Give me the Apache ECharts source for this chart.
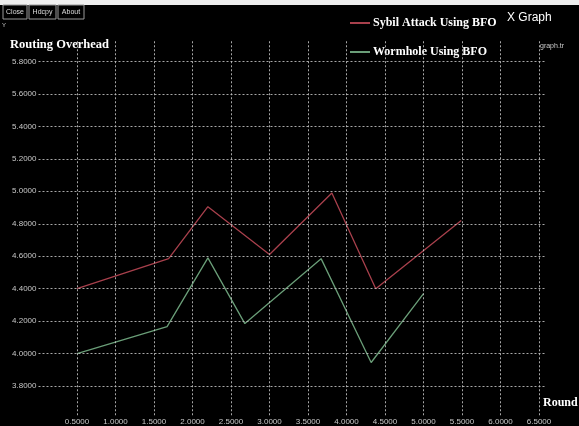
<!DOCTYPE html>
<html>
<head>
<meta charset="utf-8">
<script src="https://cdn.jsdelivr.net/npm/echarts@6/dist/echarts.min.js"></script>
<style>
  html, body { margin: 0; padding: 0; background: #000; }
  #chart { width: 579px; height: 426px; }
</style>
</head>
<body>
<div id="chart"></div>
<script>
// values
const sybilX = [0.5, 1.69, 2.2, 3.0, 3.81, 4.38, 5.49];
const sybilY = [4.4, 4.585, 4.905, 4.61, 4.99, 4.4, 4.82];
const wormX = [0.5, 1.67, 2.2, 2.68, 3.67, 4.32, 5.0];
const wormY = [4.0, 4.166, 4.59, 4.185, 4.585, 3.945, 4.37];
const xTicks = [0.5, 1.0, 1.5, 2.0, 2.5, 3.0, 3.5, 4.0, 4.5, 5.0, 5.5, 6.0, 6.5];
const yTicks = [3.8, 4.0, 4.2, 4.4, 4.6, 4.8, 5.0, 5.2, 5.4, 5.6, 5.8];
const seriesNames = ["Sybil Attack Using BFO", "Wormhole Using BFO"];

const pairs = (xs, ys) => xs.map((x, i) => [x, ys[i]]);

// xgraph grid lines run a little past the tick range
const gridLines = [];
xTicks.forEach((x) => gridLines.push([{ coord: [x, 3.62] }, { coord: [x, 5.93] }]));
yTicks.forEach((y) => gridLines.push([{ coord: [0.0, y] }, { coord: [6.58, y] }]));

const inRange = (v, arr) => arr.some((t) => Math.abs(t - v) < 1e-6);

const myChart = echarts.init(document.getElementById("chart"));

const option = {
  backgroundColor: "#000",
  animation: false,
  grid: { left: 38.5, right: 32.3, top: 29, bottom: 7.5, containLabel: false },
  xAxis: {
    type: "value",
    min: 0,
    max: 6.6,
    interval: 0.5,
    axisLine: { show: false },
    axisTick: { show: false },
    splitLine: { show: false },
    axisLabel: {
      color: "#c8c8c8",
      fontSize: 8,
      fontFamily: "Liberation Sans",
      margin: 3,
      verticalAlign: "middle",
      formatter: (v) => (inRange(v, xTicks) ? v.toFixed(4) : ""),
    },
  },
  yAxis: {
    type: "value",
    min: 3.6,
    max: 6.0,
    interval: 0.2,
    axisLine: { show: false },
    axisTick: { show: false },
    splitLine: { show: false },
    axisLabel: {
      color: "#c8c8c8",
      fontSize: 8,
      fontFamily: "Liberation Sans",
      margin: 2,
      formatter: (v) => (inRange(v, yTicks) ? v.toFixed(4) : ""),
    },
  },
  legend: {
    data: seriesNames,
    orient: "vertical",
    left: 350,
    top: 17,
    padding: 0,
    itemGap: 17,
    itemWidth: 20,
    itemHeight: 2,
    icon: "rect",
    textStyle: {
      color: "#fff",
      fontSize: 12,
      fontWeight: "bold",
      fontFamily: "Liberation Serif",
      padding: [0, 0, 0, -2],
    },
  },
  graphic: [
    { type: "rect", shape: { x: 0, y: 0, width: 579, height: 5 }, style: { fill: "#eee" } },
    { type: "rect", shape: { x: 3, y: 5, width: 24, height: 14 }, style: { fill: "#000", stroke: "#999", lineWidth: 1 } },
    { type: "rect", shape: { x: 29, y: 5, width: 27, height: 14 }, style: { fill: "#000", stroke: "#999", lineWidth: 1 } },
    { type: "rect", shape: { x: 58, y: 5, width: 26, height: 14 }, style: { fill: "#000", stroke: "#999", lineWidth: 1 } },
    { type: "text", x: 15, y: 12, style: { text: "Close", fill: "#ddd", font: "7px Liberation Sans", align: "center", verticalAlign: "middle" } },
    { type: "text", x: 42.5, y: 12, style: { text: "Hdcpy", fill: "#ddd", font: "7px Liberation Sans", align: "center", verticalAlign: "middle" } },
    { type: "text", x: 71, y: 12, style: { text: "About", fill: "#ddd", font: "7px Liberation Sans", align: "center", verticalAlign: "middle" } },
    { type: "text", x: 2, y: 22, style: { text: "Y", fill: "#ccc", font: "6px Liberation Sans" } },
    { type: "text", x: 10, y: 45, style: { text: "Routing Overhead", fill: "#fff", font: "bold 12.5px Liberation Serif", verticalAlign: "middle" } },
    { type: "text", x: 507, y: 18, style: { text: "X Graph", fill: "#fff", font: "12px Liberation Sans", verticalAlign: "middle" } },
    { type: "text", x: 540, y: 46, style: { text: "graph.tr", fill: "#ccc", font: "7px Liberation Sans", verticalAlign: "middle" } },
    { type: "text", x: 543, y: 403, style: { text: "Round", fill: "#fff", font: "bold 12px Liberation Serif", verticalAlign: "middle" } },
  ],
  series: [
    {
      name: "grid",
      type: "line",
      data: [],
      z: 1,
      silent: true,
      markLine: {
        silent: true,
        symbol: "none",
        label: { show: false },
        lineStyle: { color: "#c4c4c4", type: [2, 2], width: 1, opacity: 0.85 },
        data: gridLines,
      },
    },
    {
      name: seriesNames[0],
      type: "line",
      z: 3,
      showSymbol: false,
      color: "#a8404c",
      lineStyle: { width: 1.3, color: "#a8404c" },
      data: pairs(sybilX, sybilY),
    },
    {
      name: seriesNames[1],
      type: "line",
      z: 3,
      showSymbol: false,
      color: "#6a9e78",
      lineStyle: { width: 1.3, color: "#6a9e78" },
      data: pairs(wormX, wormY),
    },
  ],
};

myChart.setOption(option);
</script>
</body>
</html>
